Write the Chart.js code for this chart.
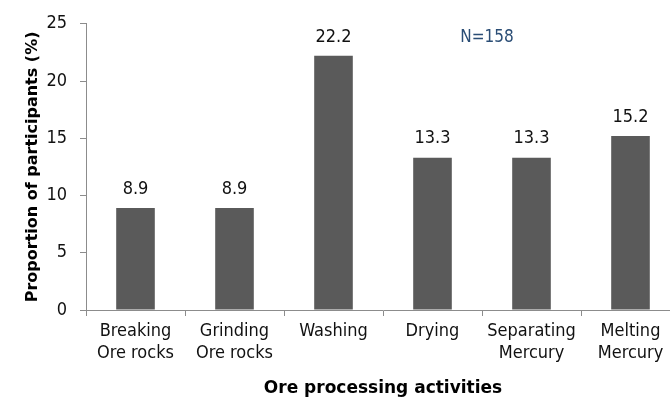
<!DOCTYPE html>
<html>
<head>
<meta charset="utf-8">
<script src="https://cdn.jsdelivr.net/npm/chart.js@4"></script>
<style>
html,body{margin:0;padding:0;background:#fff;overflow:hidden;width:670px;height:401px;}
canvas{display:block;}
</style>
</head>
<body>
<canvas id="c" width="680" height="401"></canvas>
<script>
const categories = [["Breaking","Ore rocks"],["Grinding","Ore rocks"],["Washing"],["Drying"],["Separating","Mercury"],["Melting","Mercury"]];
const proportions = [8.9, 8.9, 22.2, 13.3, 13.3, 15.2];
const yTicks = [0, 5, 10, 15, 20, 25];
const sampleNote = "N=158";

const FONT = '"DejaVu Sans Condensed", "DejaVu Sans", sans-serif';

const labelPlugin = {
  id: 'barLabels',
  afterDatasetsDraw(chart) {
    const ctx = chart.ctx;
    const meta = chart.getDatasetMeta(0);
    ctx.save();
    ctx.font = '18px ' + FONT;
    ctx.fillStyle = '#111';
    ctx.textAlign = 'center';
    ctx.textBaseline = 'middle';
    meta.data.forEach((bar, i) => {
      ctx.fillText(proportions[i].toFixed(1), bar.x, bar.y - 19);
    });
    const xs = chart.scales.x, ys = chart.scales.y;
    ctx.font = '17px ' + FONT;
    ctx.fillStyle = '#2a4d75';
    ctx.fillText(sampleNote, xs.getPixelForValue(3.55), ys.getPixelForValue(23.8));
    ctx.restore();
  }
};

new Chart(document.getElementById('c'), {
  type: 'bar',
  data: {
    labels: categories,
    datasets: [{
      data: proportions,
      backgroundColor: '#5a5a5a',
      borderWidth: 0,
      barPercentage: 0.39,
      categoryPercentage: 1.0
    }]
  },
  options: {
    responsive: false,
    animation: false,
    devicePixelRatio: 1,
    layout: { padding: { left: 0, right: 0, top: 21, bottom: 0 } },
    plugins: { legend: { display: false }, tooltip: { enabled: false } },
    scales: {
      x: {
        grid: { display: true, drawOnChartArea: false, drawTicks: true, tickLength: 6, color: '#8c8c8c', offset: true },
        border: { display: true, color: '#8c8c8c', width: 1 },
        ticks: { color: '#111', font: { family: FONT, size: 18, lineHeight: 1.2 }, padding: 5, maxRotation: 0, autoSkip: false },
        title: { display: true, text: 'Ore processing activities', color: '#000', font: { family: 'DejaVu Sans', size: 17, weight: 'bold' }, padding: { top: 4, bottom: 2 } },
        afterFit(s) { s.height = 91; }
      },
      y: {
        min: 0, max: 25,
        afterBuildTicks(s) { s.ticks = yTicks.map(v => ({ value: v })); },
        grid: { display: true, drawOnChartArea: false, drawTicks: true, tickLength: 6, color: '#8c8c8c' },
        border: { display: true, color: '#8c8c8c', width: 1 },
        ticks: { color: '#111', font: { family: FONT, size: 18 }, padding: 13 },
        title: { display: true, text: 'Proportion of participants (%)', color: '#000', font: { family: 'DejaVu Sans', size: 16, weight: 'bold' }, padding: { top: 23, bottom: 0 } },
        afterFit(s) { s.width = 86; }
      }
    }
  },
  plugins: [labelPlugin]
});
</script>
</body>
</html>
